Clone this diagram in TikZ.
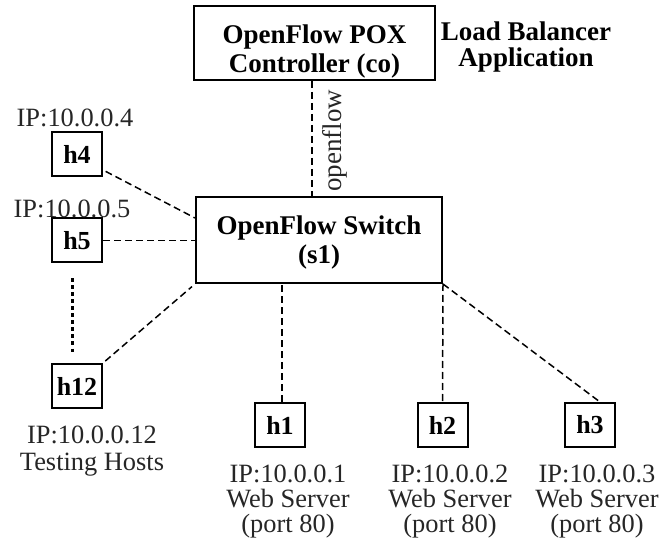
\documentclass[tikz,border=0pt]{standalone}
\usepackage{fontspec}
\setmainfont{Liberation Serif}
\begin{document}
\begin{tikzpicture}[x=0.5pt,y=-0.5pt,
  box/.style={draw, line width=1pt, inner sep=0pt, align=center, font=\fontsize{13.5}{14.5}\selectfont\bfseries},
  host/.style={draw, line width=1pt, minimum width=25pt, minimum height=22pt, inner sep=0pt, font=\fontsize{13}{14}\selectfont\bfseries},
  lbl/.style={align=center, inner sep=0pt, font=\fontsize{13.2}{12.5}\selectfont, text=black!85},
  blbl/.style={align=center, inner sep=0pt, font=\fontsize{13.5}{13}\selectfont\bfseries},
  link/.style={line width=0.75pt, dash pattern=on 3.5pt off 2pt}]
\useasboundingbox (0,0) rectangle (662,544);

% main boxes
\node[box, minimum width=120.5pt, minimum height=37pt] (co) at (314.5,43) {\rule{0pt}{18pt}OpenFlow POX\\Controller (co)};
\node[blbl] (lb) at (526,47) {Load Balancer\\Application};
\node[box, minimum width=123pt, minimum height=43pt] (s1) at (319,240) {\rule{0pt}{12pt}OpenFlow Switch\\(s1)};
\node[lbl, rotate=90, font=\fontsize{13.5}{14}\selectfont] (of) at (335,141) {openflow};

% hosts
\node[host] (h4) at (77,154) {h4};
\node[host] (h5) at (77,240.5) {h5};
\node[host] (h12) at (77,386) {h12};
\node[host] (h1) at (280,425) {h1};
\node[host] (h2) at (442.5,425) {h2};
\node[host] (h3) at (590,425) {h3};

% labels
\node[lbl] (ip4) at (75,118) {IP:10.0.0.4};
\node[lbl] (ip5) at (72,209) {IP:10.0.0.5};
\node[lbl, font=\fontsize{13.2}{13.5}\selectfont] (ip12) at (92,451) {IP:10.0.0.12\\Testing Hosts};
\node[lbl] (ip1) at (288,502) {IP:10.0.0.1\\Web Server\\(port 80)};
\node[lbl] (ip2) at (450,502) {IP:10.0.0.2\\Web Server\\(port 80)};
\node[lbl] (ip3) at (597,502) {IP:10.0.0.3\\Web Server\\(port 80)};

% connectors
\draw[link] ([xshift=-1.25pt]co.south) -- ([xshift=-1.25pt]co.south |- s1.north);
\draw[link, shorten <=1.5pt] ([yshift=-8pt]h4.east) -- ([yshift=11pt]s1.west);
\draw[link] (h5.east) -- (h5.east -| s1.west);
\draw[link, shorten <=1.5pt, shorten >=2pt] (h12.north east) -- (s1.south west);
\draw[line width=1.5pt, dash pattern=on 2pt off 1.5pt] ([xshift=-2.5pt,yshift=-7.5pt]h5.south) -- ([xshift=-2.5pt,yshift=5.5pt]h12.north);
\draw[link] ([xshift=1pt]h1.north) -- ([xshift=1pt]h1.north |- s1.south);
\draw[link] (s1.south east) -- (h2.north);
\draw[link] (s1.south east) -- ([xshift=5pt]h3.north);
\end{tikzpicture}
\end{document}
